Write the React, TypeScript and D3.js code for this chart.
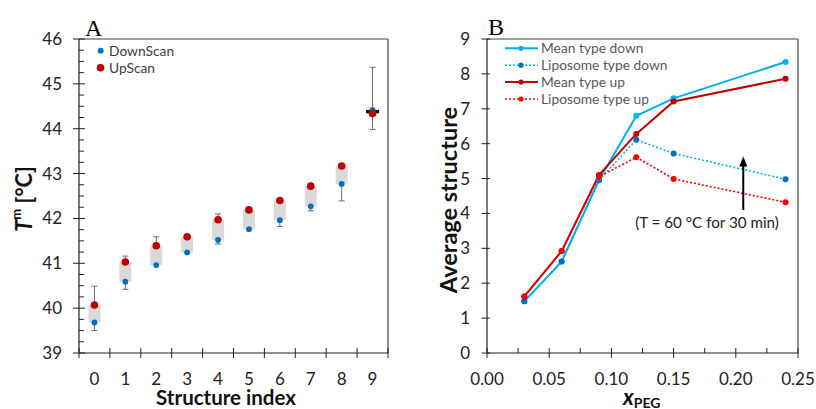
import { useEffect } from "react";
import * as d3 from "d3";

// Panel A: melting temperature per structure index
const structIdx = [0, 1, 2, 3, 4, 5, 6, 7, 8, 9];
const downScan = [39.68, 40.59, 40.96, 41.24, 41.52, 41.76, 41.96, 42.27, 42.77, 44.42];
const upScan = [40.07, 41.03, 41.39, 41.59, 41.97, 42.19, 42.4, 42.72, 43.17, 44.34];
const errHigh = [40.49, 41.16, 41.59, null, 42.1, null, null, null, null, 45.37];
const errLow = [39.5, 40.42, null, null, 41.43, null, 41.82, 42.17, 42.39, 43.98];

// Panel B: average structure vs x_PEG
const xPeg = [0.03, 0.06, 0.09, 0.12, 0.15, 0.24];
const meanDown = [1.48, 2.62, 4.95, 6.8, 7.3, 8.34];
const lipoDown = [1.48, 2.62, 4.95, 6.11, 5.72, 4.98];
const meanUp = [1.62, 2.92, 5.1, 6.28, 7.21, 7.86];
const lipoUp = [1.62, 2.92, 5.05, 5.61, 4.99, 4.32];
const seriesB = [
  { name: "Mean type down", values: meanDown, line: "#00B0F0", dot: "#00B0F0", dash: null },
  { name: "Liposome type down", values: lipoDown, line: "#00B0F0", dot: "#0070C0", dash: "2,2" },
  { name: "Mean type up", values: meanUp, line: "#C00000", dot: "#C00000", dash: null },
  { name: "Liposome type up", values: lipoUp, line: "#FF0000", dot: "#FF0000", dash: "2,2" },
];

const W = 816;
const H = 409;
const font = "Lato, 'Open Sans', sans-serif";
const serif = "'Liberation Serif', 'DejaVu Serif', serif";

const PanelA = () => {
  const x = d3.scaleBand<number>().domain(structIdx).range([79, 388]);
  const y = d3.scaleLinear().domain([39, 46]).range([353, 39]);
  const cx = (i: number) => (x(i) as number) + x.bandwidth() / 2;
  const major = y.ticks(7);
  const minor = d3.range(39, 46, 0.25).filter((v) => v % 1 !== 0);
  const bounds = [...structIdx.map((i) => x(i) as number), 388];

  return (
    <g>
      <text x={85} y={36} fontFamily={serif} fontSize={24}>A</text>
      {/* frame */}
      <line x1={79} x2={388} y1={39} y2={39} stroke="#7f7f7f" strokeWidth={1.3} />
      <line x1={388} x2={388} y1={39} y2={353} stroke="#8c8c8c" strokeWidth={2} />
      {/* whiskers */}
      {structIdx.map((i) => {
        const c = cx(i);
        const hi = errHigh[i];
        const lo = errLow[i];
        return (
          <g key={"w" + i} stroke="#6d6d6d" strokeWidth={1}>
            {hi != null && (
              <>
                <line x1={c} x2={c} y1={y(upScan[i])} y2={y(hi)} />
                <line x1={c - 3} x2={c + 3} y1={y(hi)} y2={y(hi)} />
              </>
            )}
            {lo != null && (
              <>
                <line x1={c} x2={c} y1={y(downScan[i])} y2={y(lo)} />
                <line x1={c - 3} x2={c + 3} y1={y(lo)} y2={y(lo)} />
              </>
            )}
          </g>
        );
      })}
      {/* boxes */}
      {structIdx.map((i) => {
        const top = Math.max(upScan[i], downScan[i]);
        const bot = Math.min(upScan[i], downScan[i]);
        if (top - bot < 0.15) {
          const m = (top + bot) / 2;
          return <rect key={"b" + i} x={cx(i) - 6.5} y={y(m) - 1.7} width={13} height={3.4} fill="#111" />;
        }
        return (
          <rect key={"b" + i} x={cx(i) - 6} y={y(top)} width={12} height={y(bot) - y(top)} fill="#d9d9d9" />
        );
      })}
      {structIdx.map((i) => (
        <circle key={"d" + i} cx={cx(i)} cy={y(downScan[i])} r={2.9} fill="#0070C0" />
      ))}
      {structIdx.map((i) => (
        <circle key={"u" + i} cx={cx(i)} cy={y(upScan[i])} r={3.8} fill="#C00000" />
      ))}
      {/* y axis */}
      <line x1={79} x2={79} y1={39} y2={353} stroke="#222" strokeWidth={1.2} />
      {major.map((v) => (
        <g key={"ym" + v}>
          <line x1={73} x2={85} y1={y(v)} y2={y(v)} stroke="#222" strokeWidth={1} />
          <text x={62} y={y(v) + 6} textAnchor="end" fontFamily={font} fontSize={17} fill="#222">{v}</text>
        </g>
      ))}
      {minor.map((v) => (
        <line key={"yn" + v} x1={79} x2={84} y1={y(v)} y2={y(v)} stroke="#222" strokeWidth={1} />
      ))}
      {/* x axis */}
      <line x1={79} x2={388} y1={353} y2={353} stroke="#222" strokeWidth={1.2} />
      {bounds.map((b, k) => (
        <line key={"xt" + k} x1={b} x2={b} y1={348} y2={358} stroke="#222" strokeWidth={1} />
      ))}
      {structIdx.map((i) => (
        <text key={"xl" + i} x={cx(i)} y={385} textAnchor="middle" fontFamily={font} fontSize={17} fill="#222">{i}</text>
      ))}
      <text x={226} y={404.5} textAnchor="middle" fontFamily={font} fontSize={20.5} fontWeight="bold" fill="#111">Structure index</text>
      <text transform="translate(31.5,199) rotate(-90)" textAnchor="middle" fontFamily={font} fontSize={22} fontWeight="bold" fill="#111">
        <tspan fontStyle="italic">T</tspan>
        <tspan fontSize={13} dy={-11}>m</tspan>
        <tspan dy={11}> [°C]</tspan>
      </text>
      {/* legend */}
      <circle cx={100.7} cy={50.7} r={2.9} fill="#0070C0" />
      <text x={109} y={55.5} fontFamily={font} fontSize={13.8} fill="#404040">DownScan</text>
      <circle cx={100.5} cy={67.7} r={3.8} fill="#C00000" />
      <text x={109} y={72.5} fontFamily={font} fontSize={13.8} fill="#404040">UpScan</text>
    </g>
  );
};

const PanelB = () => {
  const x = d3.scaleLinear().domain([0, 0.25]).range([487, 798]);
  const y = d3.scaleLinear().domain([0, 9]).range([353, 39]);
  const xMajor = x.ticks(5);
  const xMinor = d3.range(0.025, 0.25, 0.05);
  const yMajor = y.ticks(9);
  const line = d3
    .line<number>()
    .x((_, k) => x(xPeg[k]))
    .y((v) => y(v));

  return (
    <g>
      <text x={488} y={35} fontFamily={serif} fontSize={24}>B</text>
      <line x1={487} x2={798} y1={39} y2={39} stroke="#7f7f7f" strokeWidth={1.3} />
      <line x1={798} x2={798} y1={39} y2={353} stroke="#8c8c8c" strokeWidth={2} />
      {seriesB.map((s) => (
        <path
          key={s.name}
          d={line(s.values) as string}
          fill="none"
          stroke={s.line}
          strokeWidth={s.dash ? 1.6 : 2}
          strokeDasharray={s.dash ?? undefined}
        />
      ))}
      {seriesB.map((s) =>
        s.values.map((v, k) => (
          <circle key={s.name + k} cx={x(xPeg[k])} cy={y(v)} r={3} fill={s.dot} />
        ))
      )}
      {/* arrow */}
      <line x1={x(0.206)} x2={x(0.206)} y1={y(4.1)} y2={y(5.55)} stroke="#000" strokeWidth={2} />
      <path d={`M${x(0.206)},${y(5.6) - 1} l-4,10 l8,0 z`} fill="#000" />
      <text x={707} y={227.5} textAnchor="middle" fontFamily={font} fontSize={15.2} fill="#222">(T = 60 °C for 30 min)</text>
      {/* y axis */}
      <line x1={487} x2={487} y1={39} y2={353} stroke="#222" strokeWidth={1.2} />
      {yMajor.map((v) => (
        <g key={"ym" + v}>
          <line x1={481.5} x2={490} y1={y(v)} y2={y(v)} stroke="#222" strokeWidth={1} />
          <text x={470} y={y(v) + 6} textAnchor="end" fontFamily={font} fontSize={17} fill="#222">{v}</text>
        </g>
      ))}
      {/* x axis */}
      <line x1={487} x2={798} y1={353} y2={353} stroke="#222" strokeWidth={1.2} />
      {xMajor.map((v) => (
        <g key={"xm" + v}>
          <line x1={x(v)} x2={x(v)} y1={348} y2={358} stroke="#222" strokeWidth={1} />
          <text x={x(v)} y={385} textAnchor="middle" fontFamily={font} fontSize={17} fill="#222">{v.toFixed(2)}</text>
        </g>
      ))}
      {xMinor.map((v) => (
        <line key={"xn" + v} x1={x(v)} x2={x(v)} y1={348} y2={353} stroke="#222" strokeWidth={1} />
      ))}
      <text transform="translate(456.5,200) rotate(-90)" textAnchor="middle" fontFamily={font} fontSize={23.5} fontWeight="bold" fill="#111">Average structure</text>
      <text x={623} y={404.5} fontFamily={font} fontSize={22} fontWeight="bold" fill="#111">
        <tspan fontStyle="italic">x</tspan>
        <tspan fontSize={14} dy={3}>PEG</tspan>
      </text>
      {/* legend */}
      {seriesB.map((s, k) => {
        const ly = 48.3 + k * 16.9;
        return (
          <g key={"lg" + k}>
            <line x1={505} x2={538} y1={ly} y2={ly} stroke={s.line} strokeWidth={s.dash ? 1.6 : 2} strokeDasharray={s.dash ?? undefined} />
            <circle cx={521} cy={ly} r={2.6} fill={s.dot} />
            <text x={541} y={ly + 5} fontFamily={font} fontSize={13.8} fill="#595959">{s.name}</text>
          </g>
        );
      })}
    </g>
  );
};

const App = () => {
  useEffect(() => {
    document.body.style.margin = "0";
  }, []);
  return (
    <svg width={W} height={H} style={{ display: "block", background: "#fff" }}>
      <PanelA />
      <PanelB />
    </svg>
  );
};

export default App;
